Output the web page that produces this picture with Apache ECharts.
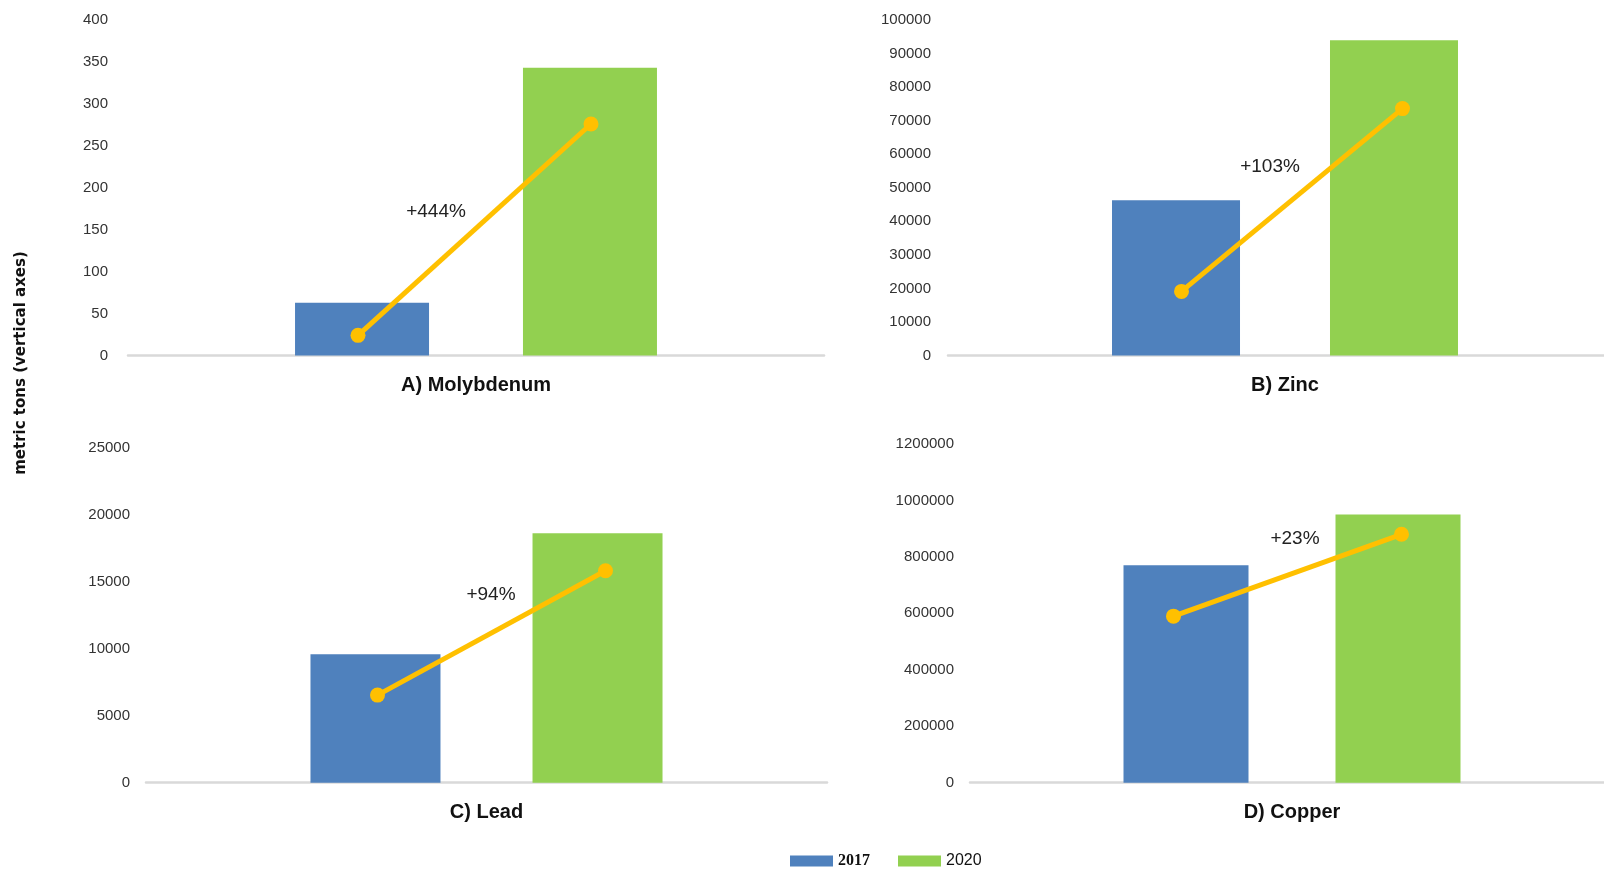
<!DOCTYPE html>
<html>
<head>
<meta charset="utf-8">
<script src="https://cdn.jsdelivr.net/npm/echarts@6/dist/echarts.min.js"></script>
<style>
html,body{margin:0;padding:0;background:#fff;}
#chart{width:1604px;height:870px;}
</style>
</head>
<body>
<div id="chart"></div>
<script>
// ---- data ----
const categories = ['A) Molybdenum', 'B) Zinc', 'C) Lead', 'D) Copper'];
const years = ['2017', '2020'];
const values2017 = [63, 46300, 9600, 770000];
const values2020 = [343, 94000, 18650, 950000];
const trendStart = [24, 19100, 6550, 590000];
const trendEnd = [276, 73600, 15850, 880000];
const changeLabels = ['+444%', '+103%', '+94%', '+23%'];
const yMax = [400, 100000, 25000, 1200000];
const yInterval = [50, 10000, 5000, 200000];
const yAxisTitle = 'metric tons (vertical axes)';

// ---- layout ----
// lx: horizontal pixel positions of the two trend-line end points
const panels = [
  {left: 128, width: 696, top: 20,    height: 335.5, bw: 134, gap: 94, lblMargin: 20, note: [436, 212], lx: [358, 591]},
  {left: 948, width: 674, top: 20,    height: 335.5, bw: 128, gap: 90, lblMargin: 17, note: [1270, 167], lx: [1181.5, 1402.5]},
  {left: 146, width: 681, top: 448.3, height: 334.4, bw: 130, gap: 92, lblMargin: 16, note: [491, 595], lx: [377.5, 605.5]},
  {left: 970, width: 644, top: 444,   height: 338.7, bw: 125, gap: 87, lblMargin: 16, note: [1295, 539], lx: [1173.5, 1401.5]}
];
const C17 = '#4F81BD', C20 = '#92D050', CLINE = '#FFC000';

const grid = [], xAxis = [], yAxis = [], series = [], graphic = [];
panels.forEach((p, i) => {
  const s = p.lx[1] - p.lx[0];
  // bar grid
  grid.push({left: p.left, top: p.top, width: p.width, height: p.height, outerBoundsMode: 'none', containLabel: false});
  // line overlay grid (its two category centres fall on lx)
  grid.push({left: p.lx[0] - s / 2, top: p.top, width: 2 * s, height: p.height, outerBoundsMode: 'none', containLabel: false});
  const gb = 2 * i, gl = 2 * i + 1;
  xAxis.push({
    gridIndex: gb, type: 'category', data: [categories[i]],
    axisLine: {lineStyle: {color: '#D9D9D9', width: 2.5}},
    axisTick: {show: false},
    axisLabel: {margin: 20, fontFamily: 'Liberation Sans', fontWeight: 'bold', fontSize: 20, color: '#111'}
  });
  xAxis.push({gridIndex: gl, type: 'category', data: years, show: false});
  yAxis.push({
    gridIndex: gb, type: 'value', min: 0, max: yMax[i], interval: yInterval[i],
    axisLine: {show: false}, axisTick: {show: false}, splitLine: {show: false},
    axisLabel: {margin: p.lblMargin, fontFamily: 'Liberation Sans', fontSize: 15, color: '#333',
      formatter: v => String(v)}
  });
  yAxis.push({gridIndex: gl, type: 'value', min: 0, max: yMax[i], show: false, splitLine: {show: false}});
  series.push({
    name: years[0], type: 'bar', xAxisIndex: 2 * i, yAxisIndex: 2 * i,
    data: [values2017[i]], barWidth: p.bw, barGap: (p.gap / p.bw * 100).toFixed(1) + '%',
    itemStyle: {color: C17}, silent: true
  });
  series.push({
    name: years[1], type: 'bar', xAxisIndex: 2 * i, yAxisIndex: 2 * i,
    data: [values2020[i]], barWidth: p.bw,
    itemStyle: {color: C20}, silent: true
  });
  series.push({
    name: 'trend' + i, type: 'line', xAxisIndex: gl, yAxisIndex: gl,
    data: [trendStart[i], trendEnd[i]], z: 5,
    symbol: 'circle', symbolSize: 15,
    lineStyle: {color: CLINE, width: 5},
    itemStyle: {color: CLINE}, silent: true
  });
  graphic.push({
    type: 'text', x: p.note[0], y: p.note[1],
    style: {text: changeLabels[i], fill: '#222', font: '19px "Liberation Sans"', textAlign: 'center', textVerticalAlign: 'middle'}
  });
});
graphic.push({
  type: 'text', x: 21, y: 363, rotation: Math.PI / 2,
  style: {text: yAxisTitle, fill: '#111', font: 'bold 15px "DejaVu Sans"', textAlign: 'center', textVerticalAlign: 'middle'}
});

const chart = echarts.init(document.getElementById('chart'));
chart.setOption({
  animation: false,
  backgroundColor: '#fff',
  grid, xAxis, yAxis, series, graphic,
  legend: {
    data: years, left: 785, top: 848, itemWidth: 43, itemHeight: 11, itemGap: 28,
    icon: 'rect',
    formatter: n => n === '2017' ? '{b|' + n + '}' : '{n|' + n + '}',
    textStyle: {
      fontFamily: 'Liberation Sans', fontSize: 16, color: '#111',
      rich: {b: {fontWeight: 'bold', fontSize: 16, fontFamily: 'Liberation Serif'}, n: {fontSize: 16, fontFamily: 'Liberation Sans'}}
    },
    selectedMode: false
  }
});
</script>
</body>
</html>
